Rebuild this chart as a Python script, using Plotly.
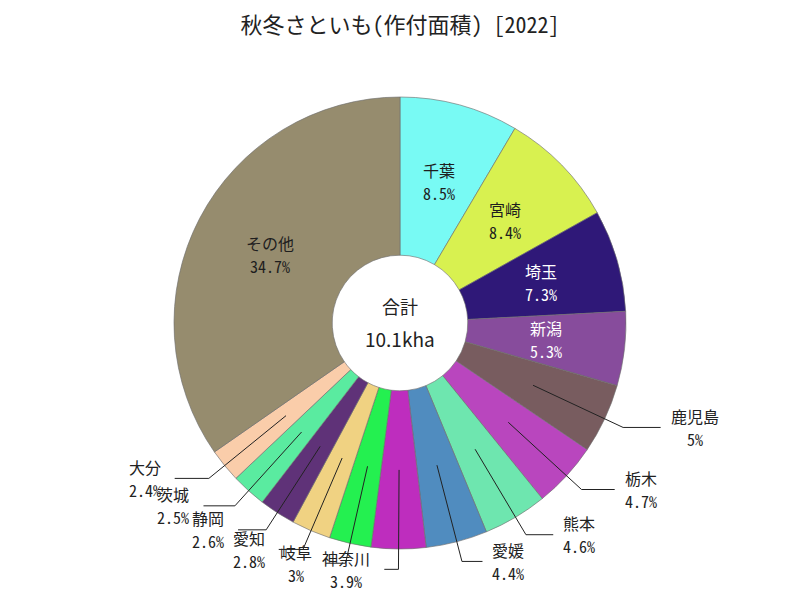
import math
import plotly.graph_objects as go

# ---- data ----
labels = ["千葉", "宮崎", "埼玉", "新潟", "鹿児島", "栃木", "熊本", "愛媛",
          "神奈川", "岐阜", "愛知", "静岡", "茨城", "大分", "その他"]
shares = [8.5, 8.4, 7.3, 5.3, 5, 4.7, 4.6, 4.4, 3.9, 3, 2.8, 2.6, 2.5, 2.4, 34.7]
colors = ["#78FAF4", "#D8F150", "#2F1878", "#874C9C", "#785C5F", "#B946BE",
          "#6EE6AF", "#508CBF", "#BE2DBE", "#24F050", "#F0D282", "#5F3278",
          "#5AEBA0", "#FACDAA", "#968C6E"]
title = "秋冬さといも(作付面積) [2022]"
total_label = "合計"
total_value = "10.1kha"

# ---- layout geometry (pixels) ----
W, H = 800, 600
CX, CY, R = 400, 323, 226
HOLE = 0.30
FONT = "Noto Sans Mono CJK JP, Noto Sans CJK JP, DejaVu Sans Mono, sans-serif"


def px(x, y):
    return x / W, 1 - y / H


def lum(hexc):
    r, g, b = (int(hexc[i:i + 2], 16) for i in (1, 3, 5))
    return 0.299 * r + 0.587 * g + 0.114 * b


def text_w(s, fs):
    return sum(fs if ord(c) > 255 else 0.5 * fs for c in s)


fig = go.Figure(go.Pie(
    labels=labels, values=shares, sort=False, direction="clockwise",
    rotation=0, hole=HOLE, textinfo="none", hoverinfo="label+percent",
    marker=dict(colors=colors, line=dict(color="rgba(110,110,110,0.8)", width=0.8)),
    domain=dict(x=[(CX - R) / W, (CX + R) / W], y=[1 - (CY + R) / H, 1 - (CY - R) / H]),
    showlegend=False,
))

annotations = []
shapes = []
tot = sum(shares)
cum = 0.0
rmid = R * (1 + HOLE) / 2
for lab, v, col in zip(labels, shares, colors):
    mid = (cum + v / 2) / tot * 2 * math.pi
    cum += v
    sx, sy = math.sin(mid), -math.cos(mid)
    pct = f"{v:g}%"
    if v > 5:
        tx, ty = CX + rmid * sx, CY + rmid * sy
        tc = "#ffffff" if lum(col) < 110 else "#1e1e1e"
        for t, dy in ((lab, -11.5), (pct, 11.5)):
            x, y = px(tx, ty + dy)
            annotations.append(dict(x=x, y=y, xref="paper", yref="paper", text=t,
                                    showarrow=False, xanchor="center", yanchor="middle",
                                    font=dict(size=16, color=tc, family=FONT)))
    else:
        x0, y0 = CX + rmid * sx, CY + rmid * sy
        r1 = R * 1.09
        x1, y1 = CX + r1 * sx, CY + r1 * sy
        side = 1 if sx >= 0 else -1
        hl = 14 + 26 * abs(sx)
        x2 = x1 + side * hl
        for (a, b), (c, d) in (((x0, y0), (x1, y1)), ((x1, y1), (x2, y1))):
            p, q = px(a, b)
            r_, s_ = px(c, d)
            shapes.append(dict(type="line", xref="paper", yref="paper", x0=p, y0=q,
                               x1=r_, y1=s_, line=dict(color="#222222", width=1)))
        fs = 16
        bw = max(text_w(lab, fs), text_w(pct, fs))
        gap = 10 if side > 0 else 14
        cxl = x2 + side * (gap + bw / 2)
        for t, dy in ((lab, -11.5), (pct, 11.5)):
            x, y = px(cxl, y1 + dy)
            annotations.append(dict(x=x, y=y, xref="paper", yref="paper", text=t,
                                    showarrow=False, xanchor="center", yanchor="middle",
                                    font=dict(size=fs, color="#222222", family=FONT)))

for t, dy, fs in ((total_label, -17, 18), (total_value, 15, 19)):
    x, y = px(CX, CY + dy)
    annotations.append(dict(x=x, y=y, xref="paper", yref="paper", text=t,
                            showarrow=False, xanchor="center", yanchor="middle",
                            font=dict(size=fs, color="#222222",
                                      family="Noto Sans CJK JP, sans-serif")))

fig.update_layout(
    width=W, height=H, margin=dict(l=0, r=0, t=0, b=0),
    paper_bgcolor="white", plot_bgcolor="white",
    title=dict(text=title, x=0.5, xanchor="center", y=1 - 25 / H, yanchor="middle",
               font=dict(size=22, color="#222222", family=FONT)),
    annotations=annotations, shapes=shapes,
)

fig.write_html("out.html", config={"displayModeBar": False},
               post_script="document.body.style.margin='0';")
